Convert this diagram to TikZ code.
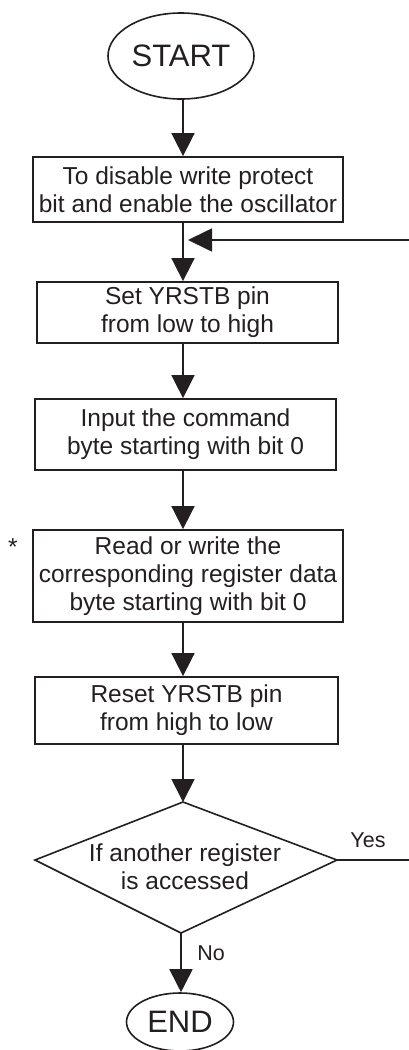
\documentclass[tikz,border=0pt]{standalone}
\usepackage{fontspec}
\setmainfont{Liberation Sans}
\usetikzlibrary{shapes.geometric,arrows.meta}
\definecolor{ink}{HTML}{231F20}
\begin{document}
\begin{tikzpicture}[x=1pt,y=-1pt,
  txt/.style={font=\fontsize{24.5}{28}\selectfont, text=ink, align=center},
  box/.style={txt, draw=ink, line width=1.8pt, rectangle, inner sep=0pt},
  term/.style={draw=ink, line width=1.6pt, ellipse, inner sep=0pt, font=\fontsize{31}{36}\selectfont, text=ink},
  conn/.style={draw=ink, line width=1.7pt},
  arr/.style={conn, -{Triangle[length=23pt,width=23pt]}},
  lbl/.style={font=\fontsize{21.5}{25}\selectfont, text=ink, inner sep=0pt, anchor=base}
]
\useasboundingbox (0,0) rectangle (408,1050);
\coordinate (ax) at (183,0);

\node[term, minimum width=146pt, minimum height=86pt] (start) at (181,56) {START};
\node[box, minimum width=310pt, minimum height=65pt] (b1) at (188,189.5) {To disable write protect\\bit and enable the oscillator};
\node[box, minimum width=301pt, minimum height=61pt] (b2) at (187.5,312.5) {Set YRSTB pin\\from low to high};
\node[box, minimum width=301pt, minimum height=71pt] (b3) at (185.5,434.5) {Input the command\\byte starting with bit 0};
\node[box, minimum width=310pt, minimum height=92pt] (b4) at (188,576) {Read or write the\\corresponding register data\\byte starting with bit 0};
\node[txt, inner sep=0pt] (star) at (13,547) {*};
\node[box, minimum width=303pt, minimum height=67pt] (b5) at (186.5,710.5) {Reset YRSTB pin\\from high to low};

% decision
\coordinate (dt) at (183,802);
\coordinate (dl) at (35,860);
\coordinate (dr) at (337,860);
\coordinate (db) at (181,933);
\draw[conn, line width=1.6pt, line join=miter] (dt) -- (dr) -- (db) -- (dl) -- cycle;
\node[txt, inner sep=0pt] (dq) at (185,867) {If another register\\is accessed};

\node[term, minimum width=107pt, minimum height=58pt] (end) at (180,1022) {END};

% connectors
\draw[arr] (start.south -| ax) -- (b1.north -| ax);
\draw[arr] (b1.south -| ax) -- (b2.north -| ax);
\draw[arr] (b2.south -| ax) -- (b3.north -| ax);
\draw[arr] (b3.south -| ax) -- (b4.north -| ax);
\draw[arr] (b4.south -| ax) -- (b5.north -| ax);
\draw[arr] (b5.south -| ax) -- (dt);
\draw[arr] (db) -- (end.north -| db);

\coordinate (fb) at (188,240);
\coordinate (loop) at (414,860);
\draw[conn, -{Triangle[length=24pt,width=23pt]}] (dr) -- (loop) |- (fb);

\node[lbl] (yes) at (368,847) {Yes};
\node[lbl] (no) at (211,960) {No};
\end{tikzpicture}
\end{document}
